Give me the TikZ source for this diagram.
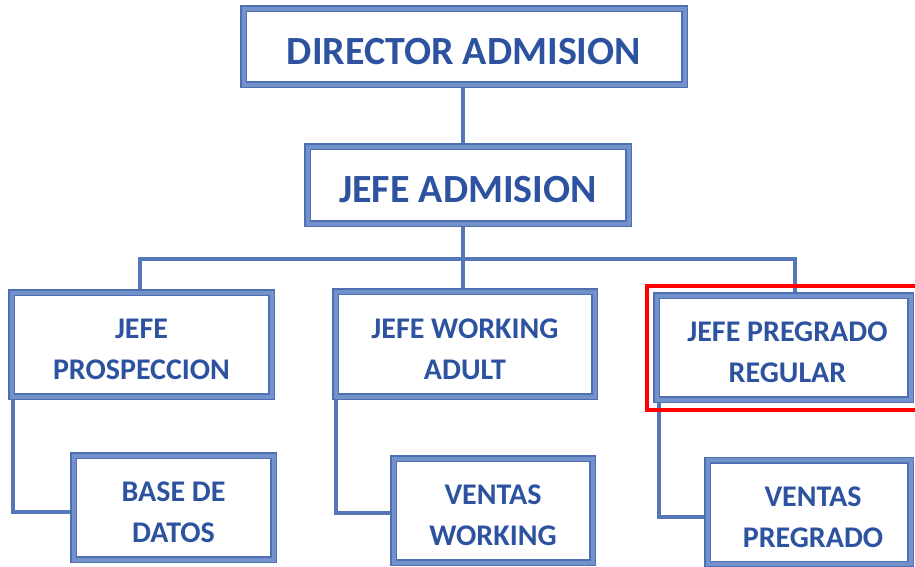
\documentclass[tikz,border=0pt]{standalone}
\usepackage{fontspec}
\setmainfont{Carlito}
\usetikzlibrary{backgrounds}

\definecolor{edgeblue}{HTML}{4E6FB0}
\definecolor{bandblue}{HTML}{7392CC}
\definecolor{linkblue}{HTML}{5577B8}
\definecolor{textblue}{HTML}{2C52A0}
\definecolor{markred}{HTML}{FF0000}

\tikzset{
  orgbox/.style={rectangle, inner sep=0pt, fill=white, draw=edgeblue,
    line width=7pt, postaction={draw=bandblue, line width=4pt}},
  bigtext/.style={text=textblue, align=center, yshift=-5pt,
    font=\fontsize{40}{48}\selectfont\bfseries},
  smalltext/.style={text=textblue, align=center, yshift=-5pt,
    font=\fontsize{30}{41}\selectfont\bfseries},
  link/.style={draw=linkblue, line width=4pt},
  marker/.style={draw=markred, line width=4pt},
}

\begin{document}
\begin{tikzpicture}[x=1pt, y=-1pt]
  \useasboundingbox (0,0) rectangle (915,566);
  \clip (0,0) rectangle (915,566);

  % top levels
  \node[orgbox, minimum width=441pt, minimum height=76pt,
        label={[bigtext]center:DIRECTOR ADMISION}] (dir) at (464,46.5) {};
  \node[orgbox, minimum width=321pt, minimum height=77pt,
        label={[bigtext]center:JEFE ADMISION}] (adm) at (468,185) {};

  % department heads
  \node[orgbox, minimum width=260pt, minimum height=104pt,
        label={[smalltext]center:JEFE\\PROSPECCION}] (pros) at (141.5,344.5) {};
  \node[orgbox, minimum width=259pt, minimum height=105pt,
        label={[smalltext]center:JEFE WORKING\\ADULT}] (work) at (465,344) {};
  \node[orgbox, minimum width=254pt, minimum height=104pt,
        label={[smalltext, xshift=4pt]center:JEFE PREGRADO\\REGULAR}] (preg) at (783.5,347.5) {};

  % staff units
  \node[orgbox, minimum width=200pt, minimum height=104pt,
        label={[smalltext]center:BASE DE\\DATOS}] (base) at (173.5,507.5) {};
  \node[orgbox, minimum width=199pt, minimum height=104pt,
        label={[smalltext]center:VENTAS\\WORKING}] (vwork) at (493,510.5) {};
  \node[orgbox, minimum width=203pt, minimum height=104pt,
        label={[smalltext, xshift=4pt]center:VENTAS\\PREGRADO}] (vpreg) at (809,512) {};

  % routing points of the connectors
  \coordinate (trunk) at (463,259);
  \coordinate (busL) at (140,259);
  \coordinate (busR) at (795,259);
  \coordinate (c1) at (13,512);
  \coordinate (c2) at (336,513);
  \coordinate (c3) at (659,517);

  \begin{scope}[on background layer]
    \fill[white] (0,0) rectangle (915,566);
    \draw[link] (trunk |- dir.south) -- (trunk |- adm.north);
    \draw[link] (trunk |- adm.south) -- (trunk |- work.north);
    \draw[link] (busL |- pros.north) -- (busL) -- (busR) -- (busR |- preg.north);
    \draw[link] (c1 |- pros.south) -- (c1) -- (c1 -| base.west);
    \draw[link] (c2 |- work.south) -- (c2) -- (c2 -| vwork.west);
    \draw[link] (c3 |- preg.south) -- (c3) -- (c3 -| vpreg.west);
  \end{scope}

  % highlight frame
  \draw[marker] ([shift={(-6.5pt,6.5pt)}]preg.north west)
    rectangle ([shift={(6.5pt,-6.5pt)}]preg.south east);
\end{tikzpicture}
\end{document}
